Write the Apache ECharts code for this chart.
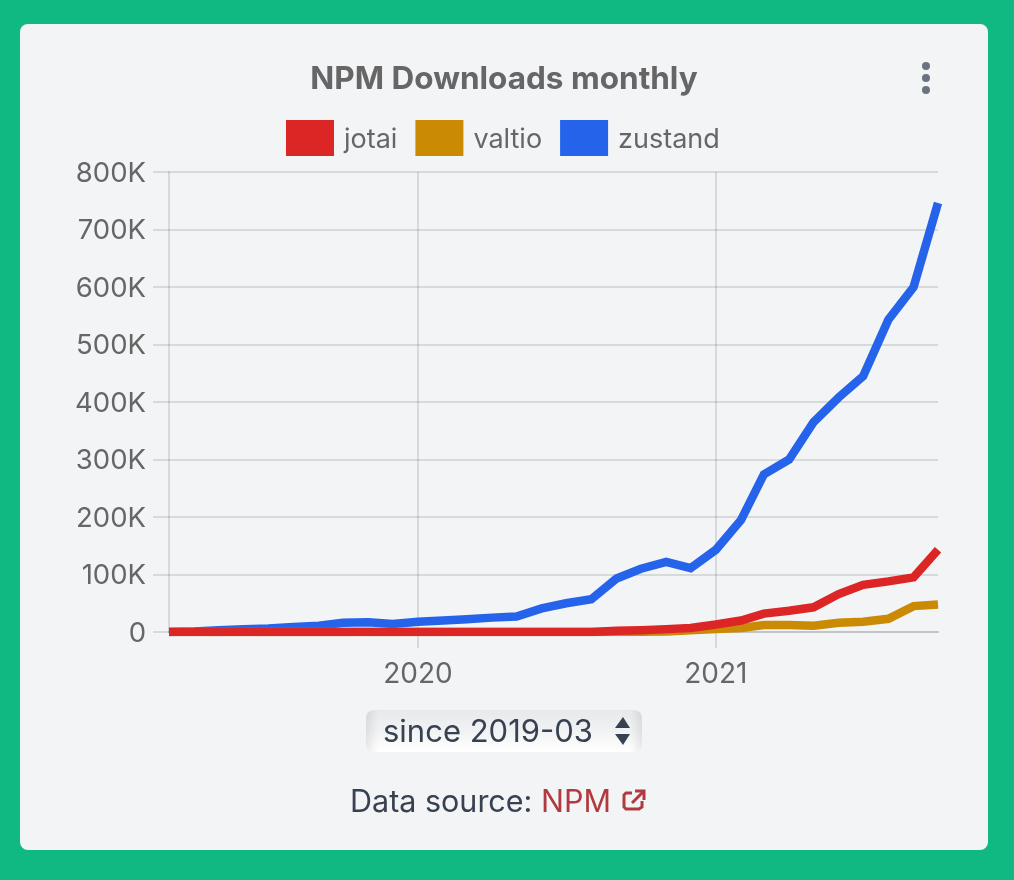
<!DOCTYPE html>
<html><head><meta charset="utf-8">
<style>html,body{margin:0;padding:0;background:#10b981}#c{width:1014px;height:880px}</style>
<script src="https://cdn.jsdelivr.net/npm/echarts@6/dist/echarts.min.js"></script>
</head><body><div id="c"></div>
<script>
const months = ['2019-03','2019-04','2019-05','2019-06','2019-07','2019-08','2019-09','2019-10','2019-11','2019-12',
 '2020-01','2020-02','2020-03','2020-04','2020-05','2020-06','2020-07','2020-08','2020-09','2020-10','2020-11','2020-12',
 '2021-01','2021-02','2021-03','2021-04','2021-05','2021-06','2021-07','2021-08','2021-09','2021-10'];
const jotai = [0,0,0,0,0,0,0,0,0,0, 0,0,0,0,0,0,0,0,2,3,5,7, 13,20,32,37,43,66,82,88,95,143];
const valtio = [0,0,0,0,0,0,0,0,0,0, 0,0,0,0,0,0,0,0,0,0.5,1,3, 5,7,12,12,11,16,18,23,45,48];
const zustand = [0,1,3,5,6,8.5,11,16,17,14, 18,20,22,25,27,41,50,57,93,110,122,111, 143,195,274,300,365,408,445,543,600,746];
const yTicks = 100;
const FONT = 'Inter, "Noto Sans", sans-serif';
const GRID = 'rgba(0,0,0,0.11)';
const t = m => new Date(m + '-01T00:00:00Z').getTime();
const pts = a => a.map((v, i) => [t(months[i]), v * 1000]);
const mk = (name, color, data, z) => ({name, type:'line', data:pts(data), z, showSymbol:false, symbol:'none', smooth:false,
  lineStyle:{color, width:8.5, cap:'butt', join:'miter'}, itemStyle:{color}, animation:false});
const chart = echarts.init(document.getElementById('c'), null, {renderer:'canvas'});
chart.setOption({
  animation:false, useUTC:true, backgroundColor:'#10b981',
  title:{text:'NPM Downloads monthly', left:499, top:59, textAlign:'center',
    textStyle:{fontFamily:FONT, fontSize:31.5, fontWeight:'bold', color:'#666'}},
  legend:{top:115, left:281, itemWidth:48, itemHeight:36, itemGap:18, icon:'rect',
    data:['jotai','valtio','zustand'], formatter:n => '{a|' + n + '}',
    textStyle:{fontFamily:FONT, fontSize:27, color:'#666', padding:[0,0,0,5],
      rich:{a:{fontFamily:FONT, fontSize:27, color:'#666', padding:[4,0,0,0]}}}},
  grid:{left:169, right:76, top:172, bottom:248, containLabel:false},
  xAxis:{type:'time', min:t('2019-03'), max:t('2021-10'), minInterval:365*864e5, splitNumber:2,
    axisLine:{show:true, lineStyle:{color:'rgba(0,0,0,0.2)', width:2}},
    axisTick:{show:true, length:16, lineStyle:{color:GRID, width:2}},
    splitLine:{show:true, showMinLine:false, showMaxLine:false, lineStyle:{color:GRID, width:2}},
    axisLabel:{fontFamily:FONT, fontSize:28, color:'#666', margin:29, showMinLabel:false, showMaxLabel:false,
      formatter:v => String(new Date(v).getUTCFullYear())}},
  yAxis:{type:'value', min:0, max:800000, interval:yTicks*1000,
    axisLine:{show:true, lineStyle:{color:GRID, width:2}},
    axisTick:{show:true, length:16, lineStyle:{color:GRID, width:2}},
    splitLine:{show:true, showMinLine:false, lineStyle:{color:GRID, width:2}},
    axisLabel:{fontFamily:FONT, fontSize:27.5, color:'#666', margin:23,
      rich:{a:{fontFamily:FONT, fontSize:27.5, color:'#666', padding:[3,0,0,0]}},
      formatter:v => '{a|' + (v === 0 ? '0' : (v/1000)+'K') + '}'}},
  series:[mk('jotai','#dc2626',jotai,5), mk('valtio','#ca8a04',valtio,4), mk('zustand','#2563eb',zustand,3)],
  graphic:[
    {type:'rect', z:-10, shape:{x:20,y:24,width:968,height:826,r:8}, style:{fill:'#f3f4f6'}},
    {type:'circle', shape:{cx:926,cy:66,r:4}, style:{fill:'#6b7280'}},
    {type:'circle', shape:{cx:926,cy:78,r:4}, style:{fill:'#6b7280'}},
    {type:'circle', shape:{cx:926,cy:90,r:4}, style:{fill:'#6b7280'}},
    {type:'rect', shape:{x:366,y:710,width:276,height:42,r:8}, style:{fill:new echarts.graphic.LinearGradient(0,0,0,1,[{offset:0,color:'#e8e9ea'},{offset:0.5,color:'#f1f2f3'},{offset:1,color:'#ffffff'}])}},
    {type:'rect', shape:{x:366,y:710,width:12,height:42,r:[8,0,0,8]}, style:{fill:new echarts.graphic.LinearGradient(0,0,1,0,[{offset:0,color:'rgba(0,0,0,0.08)'},{offset:1,color:'rgba(0,0,0,0)'}])}},
    {type:'rect', shape:{x:630,y:710,width:12,height:42,r:[0,8,8,0]}, style:{fill:new echarts.graphic.LinearGradient(1,0,0,0,[{offset:0,color:'rgba(0,0,0,0.08)'},{offset:1,color:'rgba(0,0,0,0)'}])}},
    {type:'text', style:{x:383,y:733,text:'since 2019-03',font:'31px '+FONT,fill:'#374151',textVerticalAlign:'middle'}},
    {type:'polygon', shape:{points:[[623,717],[615,728],[630,728]]}, style:{fill:'#374151'}},
    {type:'polygon', shape:{points:[[623,745],[615,734],[630,734]]}, style:{fill:'#374151'}},
    {type:'text', style:{x:350,y:803,text:'Data source:',font:'30.5px '+FONT,fill:'#374151',textVerticalAlign:'middle'}},
    {type:'text', style:{x:541,y:803,text:'NPM',font:'30.5px '+FONT,fill:'#b03a3f',textVerticalAlign:'middle'}},
    {type:'polyline', shape:{points:[[632,793],[626,793],[624,795],[624,807],[626,809],[639,809],[642,807],[642,801]]}, style:{fill:null,stroke:'#b03a3f',lineWidth:3}},
    {type:'polyline', shape:{points:[[635,791],[644,791],[644,800]]}, style:{fill:null,stroke:'#b03a3f',lineWidth:3}},
    {type:'line', shape:{x1:644,y1:791,x2:632,y2:803}, style:{stroke:'#b03a3f',lineWidth:3}}
  ]
});
</script></body></html>
